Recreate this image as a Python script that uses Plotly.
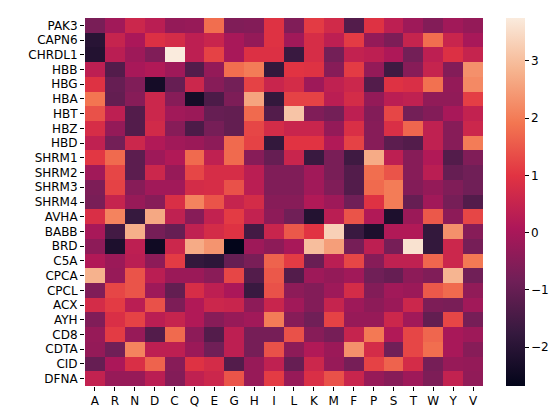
import plotly.graph_objects as go

rows = ["PAK3", "CAPN6", "CHRDL1", "HBB", "HBG", "HBA", "HBT", "HBZ", "HBD",
        "SHRM1", "SHRM2", "SHRM3", "SHRM4", "AVHA", "BABB", "BRD", "C5A", "CPCA",
        "CPCL", "ACX", "AYH", "CD8", "CDTA", "CID", "DFNA"]
cols = ["A", "R", "N", "D", "C", "Q", "E", "G", "H", "I", "L", "K", "M", "F",
        "P", "S", "T", "W", "Y", "V"]

PAK3 = [-0.7, -0.1, 0.6, 0.3, -0.3, -0.25, 1.8, -0.6, -0.55, 0.95, -0.6, 1.1, 0.7, -1.3, 0.95, 0.35, -0.15, -0.55, -0.1, -0.3]
CAPN6 = [-2.0, 0.5, 0.05, 0.9, 0.75, 0.35, 0.55, 0.0, -0.3, 0.95, -0.1, 0.8, 0.35, 1.1, -0.3, -0.65, 0.5, 1.8, 0.55, 0.0]
CHRDL1 = [-2.1, 0.3, -0.15, -0.6, 3.75, 0.35, 1.2, 0.0, 0.9, 0.9, -1.7, 0.8, -0.8, 0.45, 0.35, 0.1, -0.8, 0.35, 0.9, 0.5]
HBB = [0.35, -1.3, 0.0, 0.15, -0.15, -1.3, -0.3, 1.8, 2.0, -1.8, 1.0, 0.95, -0.5, 1.1, -0.3, -1.6, -0.5, 0.5, -0.55, 2.3]
HBG = [0.95, -1.0, -0.6, -2.35, -1.0, 0.6, -0.5, -0.8, 1.2, 0.55, 0.75, -0.15, 0.4, 0.6, -1.3, 0.95, 0.85, 1.85, -0.3, 2.2]
HBA = [1.9, -1.05, -0.5, 0.6, -0.5, -2.35, -1.4, -0.65, 2.6, -1.8, 1.2, 1.2, 0.3, 0.75, -0.3, 0.3, 0.4, -0.35, -0.35, 1.15]
HBT = [1.4, 0.35, -1.3, 0.6, -0.1, -0.2, -1.0, -1.05, 1.75, -1.3, 3.1, -0.6, -0.8, 0.35, -0.55, 1.25, -0.8, -0.55, 0.0, 0.45]
HBZ = [0.8, -0.3, -1.3, 0.7, -0.5, -1.4, -0.75, -1.05, 1.25, 0.75, 0.55, 0.55, -0.3, 0.85, -0.5, 0.85, 1.7, 0.4, -0.5, 0.6]
HBD = [0.4, -0.8, 0.6, 0.15, -0.1, -0.2, -0.4, 1.75, 1.2, -1.8, 1.0, 1.0, 0.15, 1.2, -0.5, -1.15, -1.3, 0.4, -0.5, 2.0]
SHRM1 = [1.05, 1.75, -1.15, -0.15, 0.15, 1.75, 0.4, 1.75, -0.5, -1.0, 0.55, -1.7, -0.7, -1.6, 2.7, 0.35, -0.5, 0.15, -1.3, -0.6]
SHRM2 = [-0.1, 1.25, -1.15, 0.6, -0.25, 1.25, 0.8, 0.8, 0.3, -0.6, -0.6, -0.1, -0.7, -1.3, 1.8, 1.45, -0.5, 0.3, -1.0, -0.85]
SHRM3 = [-0.65, 1.2, -0.5, -0.1, -0.1, 0.75, 0.8, 1.4, 0.3, -0.6, -0.6, -0.1, -0.6, -1.3, 1.75, 2.0, -0.55, -0.3, -0.6, -0.85]
SHRM4 = [-0.7, 0.5, -0.25, -0.5, 0.85, 2.1, 1.45, 0.5, 0.75, -0.5, -0.5, 0.15, -0.15, -0.85, 0.95, 2.0, -1.0, -0.1, -0.75, -1.3]
AVHA = [0.85, 2.1, -1.75, 2.65, 0.4, -0.5, 0.45, 1.1, 0.45, -0.4, -0.85, -2.1, 0.3, 1.45, 0.15, -2.2, -0.2, 1.5, -0.4, 1.25]
BABB = [0.0, -1.55, 2.75, -0.75, -1.0, 0.4, 0.75, 0.95, -1.55, 0.55, 1.5, 1.0, 3.3, -1.7, -2.2, 0.15, 0.15, -1.8, 2.3, -0.5]
BRD = [-0.4, -2.2, 0.35, -2.45, 0.6, 2.7, 2.35, -2.68, -0.15, -0.4, 0.0, 3.0, 2.5, -0.75, 0.35, -0.75, 3.6, -1.8, 0.6, -0.75]
C5A = [0.15, -0.2, 0.3, -0.4, 1.1, -1.8, -1.9, -1.0, -0.7, 1.65, 1.1, -0.95, 0.3, 1.25, -0.5, 0.4, 0.4, 1.7, 0.6, 1.95]
CPCA = [2.8, -0.25, 1.45, 0.3, -0.2, -0.2, -0.45, 1.25, -1.3, 1.5, -1.3, -0.15, -0.3, -0.1, -0.85, -1.0, -0.4, -0.6, 2.85, -0.85]
CPCL = [-0.6, 1.25, 1.45, -0.15, -1.05, 0.8, 0.35, 0.05, -1.7, 1.4, -0.4, -0.55, -0.15, 0.75, -0.55, -0.1, -0.2, 1.5, 1.75, -0.35]
ACX = [0.75, 1.1, 0.3, 1.4, -0.65, 0.15, 0.6, 0.55, -0.4, 0.55, -0.1, -0.55, 0.5, -0.15, -0.4, -0.2, 0.6, -0.65, -0.7, -0.1]
AYH = [-0.6, 0.85, 1.2, 0.3, 0.5, 0.15, -0.5, -0.25, -0.1, 2.0, -0.5, -0.85, 1.2, -0.25, -0.25, 0.6, -0.1, -1.05, 1.25, -0.75]
CD8 = [-0.25, 1.1, -0.25, -1.3, 1.75, -0.4, -1.3, 0.35, -0.75, -0.75, 1.4, -0.5, -0.75, 0.5, 1.95, 0.15, 1.25, 1.7, 0.0, -0.15]
CDTA = [-0.3, -0.85, 2.1, 0.35, 0.35, -0.2, -0.85, 0.35, -0.75, 1.4, -0.4, 0.15, -0.2, 2.3, 0.75, -0.85, 1.25, 1.8, 0.0, -0.5]
CID = [-1.0, 0.05, 0.85, 1.65, -0.5, 0.95, 0.75, -1.3, -0.25, 0.4, -1.0, 0.6, -0.25, -0.75, 1.2, 1.65, 0.75, -0.75, -0.25, -0.3]
DFNA = [0.45, -0.25, -0.25, 0.3, -0.55, 0.4, 0.6, 1.45, -0.25, 1.1, -0.25, 0.85, 1.4, 0.55, -0.25, -0.5, -0.15, -0.65, 0.45, -0.35]

z = [PAK3, CAPN6, CHRDL1, HBB, HBG, HBA, HBT, HBZ, HBD, SHRM1, SHRM2, SHRM3,
     SHRM4, AVHA, BABB, BRD, C5A, CPCA, CPCL, ACX, AYH, CD8, CDTA, CID, DFNA]

rocket = [
    [0.0, "#03051a"],
    [1/7, "#35193e"],
    [2/7, "#701f57"],
    [3/7, "#ad1759"],
    [4/7, "#e13342"],
    [5/7, "#f37651"],
    [6/7, "#f6b48f"],
    [1.0, "#faebdd"],
]

font = dict(family="DejaVu Sans", size=12, color="#000000")

fig = go.Figure(go.Heatmap(
    z=z, x=cols, y=rows, colorscale=rocket,
    xgap=0, ygap=0,
    colorbar=dict(
        x=1.058, xanchor="left", xpad=0, y=0, yanchor="bottom", ypad=0,
        len=1, lenmode="fraction", thickness=19, outlinewidth=0,
        tickvals=[-2, -1, 0, 1, 2, 3], ticks="outside", ticklen=4,
        tickwidth=1, tickcolor="#000000", tickfont=font,
    ),
))

fig.update_layout(
    width=557, height=413,
    margin=dict(l=77, r=82, t=10, b=35),
    paper_bgcolor="white", plot_bgcolor="white",
    font=font,
)
fig.update_xaxes(ticks="outside", ticklen=4, tickwidth=1, tickcolor="#000000",
                 showgrid=False, zeroline=False, showline=False, tickfont=font)
fig.update_yaxes(autorange="reversed", ticks="outside", ticklen=4, tickwidth=1,
                 tickcolor="#000000", showgrid=False, zeroline=False,
                 showline=False, tickfont=font)

fig.write_html("out.html")
